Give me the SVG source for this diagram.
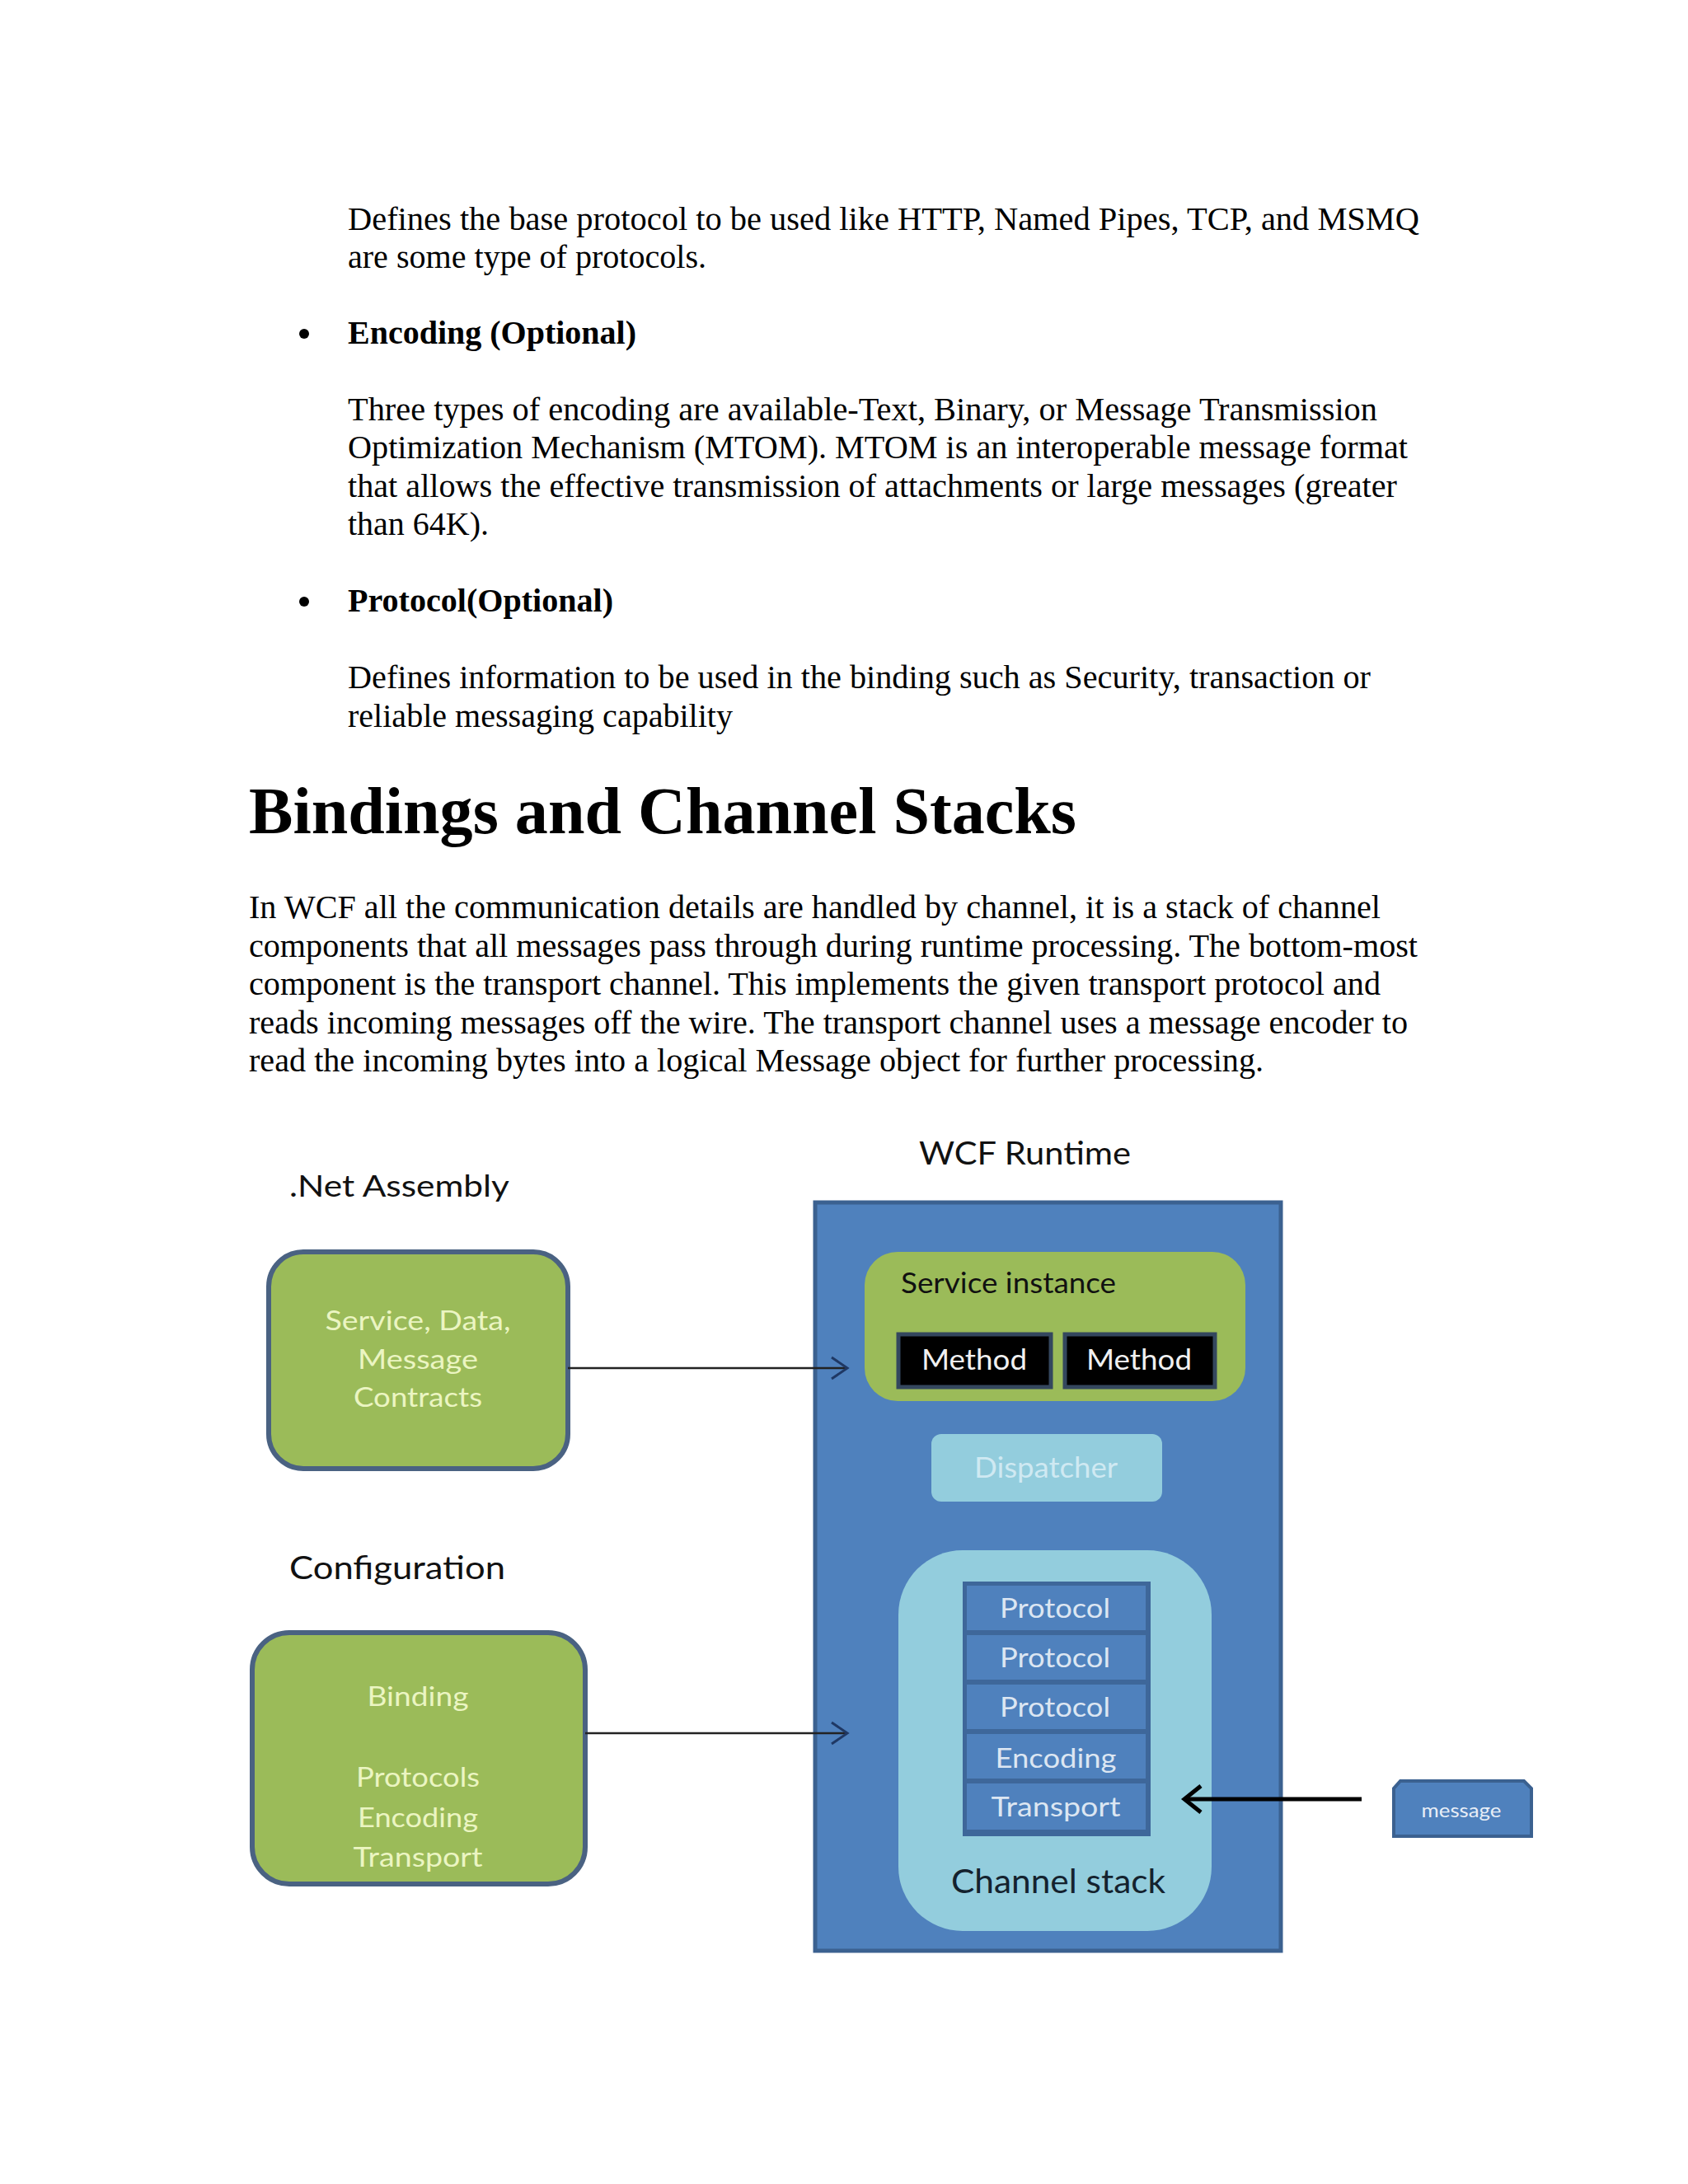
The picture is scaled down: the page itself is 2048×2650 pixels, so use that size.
<svg xmlns="http://www.w3.org/2000/svg" width="2048" height="2650" viewBox="0 0 2048 2650">
<style>
.body{font-family:"Liberation Serif","Times New Roman",serif;font-size:39px;fill:#000}
.bold{font-weight:bold}
.h1{font-family:"Liberation Serif","Times New Roman",serif;font-size:80px;font-weight:bold;fill:#000}
.lbl{font-family:Lato,"Open Sans",sans-serif;fill:#111}
.gtxt{font-family:Lato,"Open Sans",sans-serif;font-size:33px;fill:#ebf5c2;text-anchor:middle}
.stxt{font-family:Lato,"Open Sans",sans-serif;font-size:33px;fill:#dce6f2;text-anchor:middle}
.green{fill:#9bbb59;stroke:#4a6282;stroke-width:6}
.cell{fill:#4f81bd}
</style>
<rect width="2048" height="2650" fill="#ffffff"/>
<g id="text">
<text class="body" x="422" y="279" textLength="1300" lengthAdjust="spacingAndGlyphs">Defines the base protocol to be used like HTTP, Named Pipes, TCP, and MSMQ</text>
<text class="body" x="422" y="325" textLength="435" lengthAdjust="spacingAndGlyphs">are some type of protocols.</text>
<circle cx="369" cy="405" r="6" fill="#000"/>
<text class="body bold" x="422" y="417" textLength="350" lengthAdjust="spacingAndGlyphs">Encoding (Optional)</text>
<text class="body" x="422" y="510" textLength="1249" lengthAdjust="spacingAndGlyphs">Three types of encoding are available-Text, Binary, or Message Transmission</text>
<text class="body" x="422" y="556" textLength="1286" lengthAdjust="spacingAndGlyphs">Optimization Mechanism (MTOM). MTOM is an interoperable message format</text>
<text class="body" x="422" y="603" textLength="1273" lengthAdjust="spacingAndGlyphs">that allows the effective transmission of attachments or large messages (greater</text>
<text class="body" x="422" y="649" textLength="171" lengthAdjust="spacingAndGlyphs">than 64K).</text>
<circle cx="369" cy="730" r="6" fill="#000"/>
<text class="body bold" x="422" y="742" textLength="322" lengthAdjust="spacingAndGlyphs">Protocol(Optional)</text>
<text class="body" x="422" y="835" textLength="1241" lengthAdjust="spacingAndGlyphs">Defines information to be used in the binding such as Security, transaction or</text>
<text class="body" x="422" y="882" textLength="467" lengthAdjust="spacingAndGlyphs">reliable messaging capability</text>
<text class="h1" x="302" y="1011" textLength="1004" lengthAdjust="spacingAndGlyphs">Bindings and Channel Stacks</text>
<text class="body" x="302" y="1114" textLength="1373" lengthAdjust="spacingAndGlyphs">In WCF all the communication details are handled by channel, it is a stack of channel</text>
<text class="body" x="302" y="1161" textLength="1418" lengthAdjust="spacingAndGlyphs">components that all messages pass through during runtime processing. The bottom-most</text>
<text class="body" x="302" y="1207" textLength="1373" lengthAdjust="spacingAndGlyphs">component is the transport channel. This implements the given transport protocol and</text>
<text class="body" x="302" y="1254" textLength="1406" lengthAdjust="spacingAndGlyphs">reads incoming messages off the wire. The transport channel uses a message encoder to</text>
<text class="body" x="302" y="1300" textLength="1231" lengthAdjust="spacingAndGlyphs">read the incoming bytes into a logical Message object for further processing.</text>
</g>
<g id="labels">
<text class="lbl" x="351" y="1452" font-size="37" textLength="267" lengthAdjust="spacingAndGlyphs">.Net Assembly</text>
<text class="lbl" x="1115" y="1413" font-size="39" textLength="257" lengthAdjust="spacingAndGlyphs">WCF Runtime</text>
<text class="lbl" x="351" y="1916" font-size="39" textLength="262" lengthAdjust="spacingAndGlyphs">Configuration</text>
</g>
<g id="contracts">
<rect class="green" x="326" y="1519" width="363" height="263" rx="42"/>
<text class="gtxt" x="507" y="1614" textLength="225" lengthAdjust="spacingAndGlyphs">Service, Data,</text>
<text class="gtxt" x="507" y="1661" textLength="146" lengthAdjust="spacingAndGlyphs">Message</text>
<text class="gtxt" x="507" y="1707" textLength="156" lengthAdjust="spacingAndGlyphs">Contracts</text>
</g>
<g id="binding">
<rect class="green" x="306" y="1981" width="404" height="305" rx="45"/>
<text class="gtxt" x="507" y="2070" textLength="123" lengthAdjust="spacingAndGlyphs">Binding</text>
<text class="gtxt" x="507" y="2168" textLength="150" lengthAdjust="spacingAndGlyphs">Protocols</text>
<text class="gtxt" x="507" y="2217" textLength="146" lengthAdjust="spacingAndGlyphs">Encoding</text>
<text class="gtxt" x="507" y="2265" textLength="157" lengthAdjust="spacingAndGlyphs">Transport</text>
</g>
<g id="runtime">
<rect x="989" y="1459" width="565" height="908" fill="#4f81bd" stroke="#3b6190" stroke-width="5"/>
</g>
<g id="service-instance">
<rect x="1049" y="1519" width="462" height="181" rx="40" fill="#9bbb59"/>
<text class="lbl" x="1093" y="1569" font-size="35" fill="#1b2a0c" textLength="261" lengthAdjust="spacingAndGlyphs">Service instance</text>
<rect x="1090" y="1619" width="185" height="64" fill="#000" stroke="#34475e" stroke-width="5"/>
<rect x="1292" y="1619" width="182" height="64" fill="#000" stroke="#34475e" stroke-width="5"/>
<text x="1182" y="1662" font-family="Lato,'Open Sans',sans-serif" font-size="35" fill="#f0f0f0" text-anchor="middle" textLength="128" lengthAdjust="spacingAndGlyphs">Method</text>
<text x="1382" y="1662" font-family="Lato,'Open Sans',sans-serif" font-size="35" fill="#f0f0f0" text-anchor="middle" textLength="128" lengthAdjust="spacingAndGlyphs">Method</text>
</g>
<g id="dispatcher">
<rect x="1130" y="1740" width="280" height="82" rx="12" fill="#93cddd"/>
<text x="1269" y="1793" font-family="Lato,'Open Sans',sans-serif" font-size="35" fill="#cfe9f2" text-anchor="middle" textLength="174" lengthAdjust="spacingAndGlyphs">Dispatcher</text>
</g>
<g id="channel-stack">
<rect x="1090" y="1881" width="380" height="462" rx="78" fill="#93cddd"/>
<rect x="1168" y="1919" width="228" height="309" fill="#3e679a"/>
<rect class="cell" x="1173" y="1924" width="217" height="54"/>
<rect class="cell" x="1173" y="1984" width="217" height="54"/>
<rect class="cell" x="1173" y="2044" width="217" height="54"/>
<rect class="cell" x="1173" y="2104" width="217" height="54"/>
<rect class="cell" x="1173" y="2164" width="217" height="56"/>
<text class="stxt" x="1280" y="1963" textLength="134" lengthAdjust="spacingAndGlyphs">Protocol</text>
<text class="stxt" x="1280" y="2023" textLength="134" lengthAdjust="spacingAndGlyphs">Protocol</text>
<text class="stxt" x="1280" y="2083" textLength="134" lengthAdjust="spacingAndGlyphs">Protocol</text>
<text class="stxt" x="1281" y="2145" textLength="147" lengthAdjust="spacingAndGlyphs">Encoding</text>
<text class="stxt" x="1281" y="2204" textLength="157" lengthAdjust="spacingAndGlyphs">Transport</text>
<text x="1284" y="2297" font-family="Lato,'Open Sans',sans-serif" font-size="41" fill="#14222e" text-anchor="middle" textLength="260" lengthAdjust="spacingAndGlyphs">Channel stack</text>
</g>
<g id="message">
<path d="M1699,2161 H1849 L1858,2170 V2228 H1691 V2170 Z" fill="#4f81bd" stroke="#3b6190" stroke-width="4"/>
<text x="1773" y="2205" font-family="Lato,'Open Sans',sans-serif" font-size="24" fill="#e8eef7" text-anchor="middle" textLength="97" lengthAdjust="spacingAndGlyphs">message</text>
</g>
<g id="connectors" fill="none">
<line x1="689" y1="1660" x2="1027" y2="1660" stroke="#222" stroke-width="2.5"/>
<polyline points="1009,1647 1028,1660 1009,1673" stroke="#1f3864" stroke-width="3"/>
<line x1="710" y1="2103" x2="1027" y2="2103" stroke="#222" stroke-width="2.5"/>
<polyline points="1009,2090 1028,2103 1009,2116" stroke="#1f3864" stroke-width="3"/>
<line x1="1652" y1="2183" x2="1438" y2="2183" stroke="#000" stroke-width="5"/>
<polyline points="1457,2167 1437,2183 1457,2199" stroke="#000" stroke-width="5"/>
</g>
</svg>
